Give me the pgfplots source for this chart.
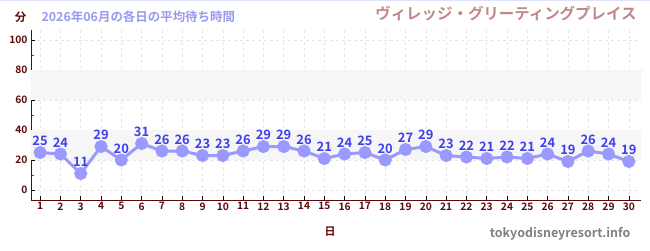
\documentclass[border=0pt]{standalone}
\usepackage{fontspec}
\setmainfont{Noto Sans CJK JP}[BoldFont={Noto Sans CJK JP Bold}]
\usepackage{pgfplots}
\pgfplotsset{compat=1.18}
\definecolor{maroon}{HTML}{5A0A0A}
\definecolor{linec}{HTML}{9999FF}
\definecolor{labc}{HTML}{3F3FEE}
\definecolor{titc}{HTML}{9999EE}
\definecolor{pinkc}{HTML}{C08888}
\definecolor{bandc}{HTML}{F6F6F6}
\definecolor{gridc}{HTML}{E6E6E6}
\begin{document}
\begin{tikzpicture}[x=1bp,y=1bp]
\path[use as bounding box] (0,0) rectangle (650,250);
\draw[color=linec!30, line width=1.5bp] (0,249.3) -- (650,249.3);
\begin{axis}[
  at={(31bp,50bp)}, anchor=south west,
  scale only axis, width=610bp, height=170bp,
  xmin=0.55, xmax=30.6, ymin=-6.67, ymax=106.7,
  xtick={1,...,30}, ytick={0,20,...,100},
  minor ytick={10,30,...,90},
  axis x line*=bottom, axis y line*=left,
  axis line style={maroon, line width=0.8bp, -},
  major tick length=4bp, minor tick length=3bp,
  tick style={black, line width=0.6bp},
  minor tick style={red, line width=0.6bp},
  tick label style={font=\bfseries\fontsize{10.3}{12}\selectfont, text=maroon},
  xticklabel style={yshift=1bp},
  /pgf/number format/assume math mode=true,
  grid=major, major grid style={gridc, dashed, line width=0.6bp},
  every node near coord/.append style={font=\bfseries\fontsize{13}{15}\selectfont, text=labc, anchor=south, yshift=2bp},
  clip=false,
]
\fill[bandc] (axis cs:0.55,60) rectangle (axis cs:30.6,80);
\fill[bandc] (axis cs:0.55,20) rectangle (axis cs:30.6,40);
\addplot[linec, line width=3bp, mark=*, mark size=5bp, mark options={fill=linec, draw=linec}, nodes near coords] coordinates {
(1,25)(2,24)(3,11)(4,29)(5,20)(6,31)(7,26)(8,26)(9,23)(10,23)
(11,26)(12,29)(13,29)(14,26)(15,21)(16,24)(17,25)(18,20)(19,27)(20,29)
(21,23)(22,22)(23,21)(24,22)(25,21)(26,24)(27,19)(28,26)(29,24)(30,19)};
\end{axis}
\node[font=\bfseries\fontsize{11.5}{12}\selectfont, text=maroon] at (20.5,233) {分};
\node[font=\bfseries\fontsize{12.5}{14}\selectfont, text=titc, anchor=west] at (38,233) {2026年06月の各日の平均待ち時間};
\node[font=\bfseries\fontsize{15.5}{17}\selectfont, text=pinkc, anchor=east] at (640,236) {ヴィレッジ・グリーティングプレイス};
\node[font=\bfseries\fontsize{11}{12}\selectfont, text=maroon] at (330,18) {日};
\node[font=\bfseries\fontsize{12.5}{14}\selectfont, text=gray, anchor=east] at (634,16) {tokyodisneyresort.info};
\end{tikzpicture}
\end{document}
